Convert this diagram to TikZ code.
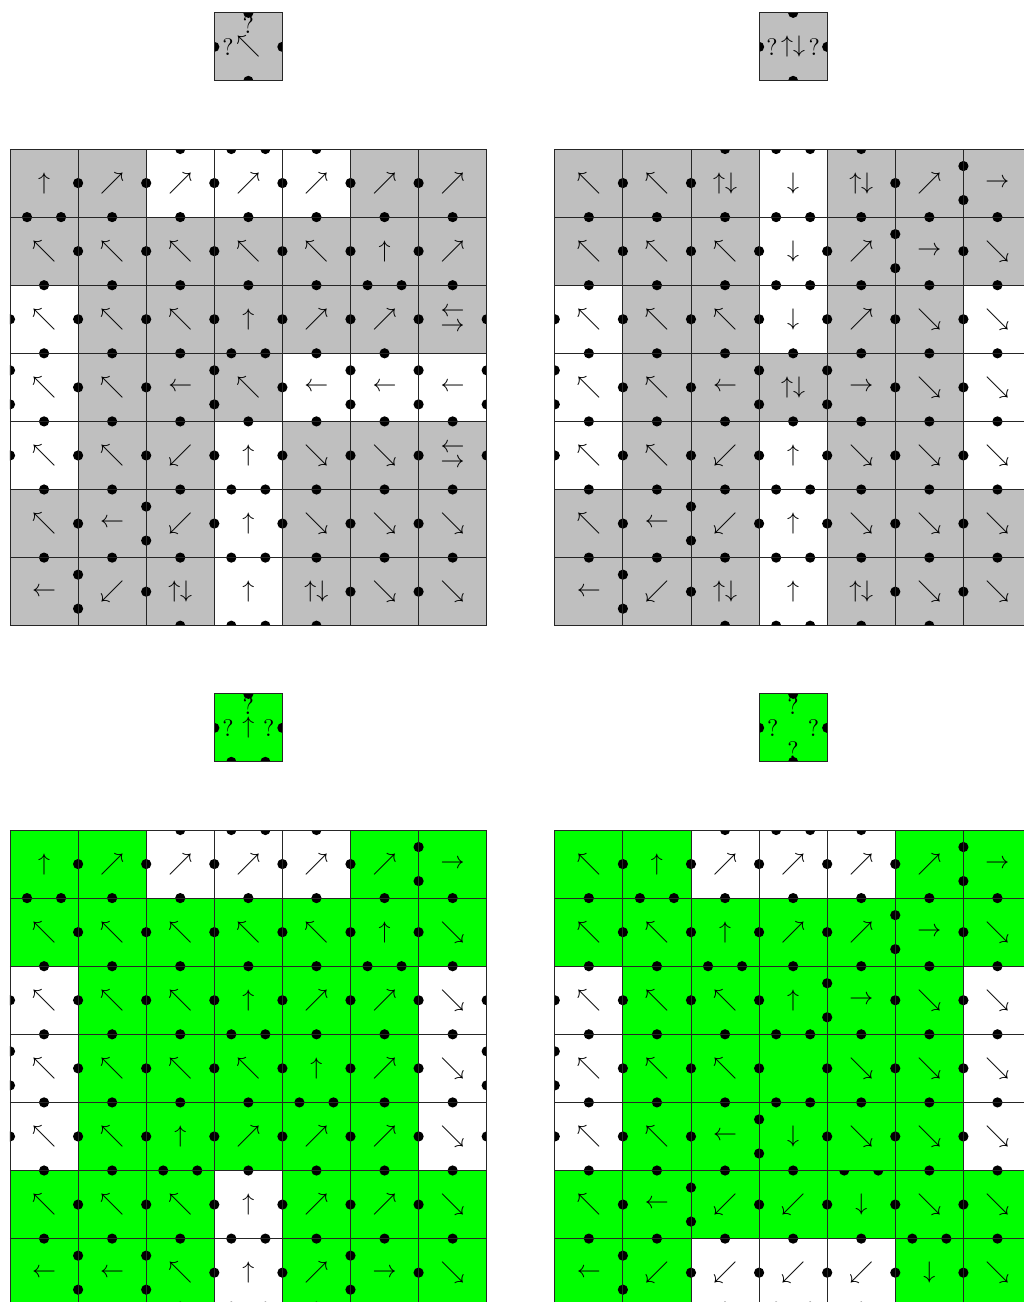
\documentclass[tikz,border=0pt]{standalone}
\usepackage{amsmath,amssymb}
\usepackage{tikz}

\colorlet{gry}{black!25}
\definecolor{grn}{RGB}{0,255,0}

% arrow symbols
\newcommand{\aU}{$\uparrow$}
\newcommand{\aD}{$\downarrow$}
\newcommand{\aL}{$\leftarrow$}
\newcommand{\aR}{$\rightarrow$}
\newcommand{\aNE}{$\nearrow$}
\newcommand{\aNW}{$\nwarrow$}
\newcommand{\aSE}{$\searrow$}
\newcommand{\aSW}{$\swarrow$}
\newcommand{\aUD}{$\uparrow\downarrow$}
\newcommand{\aLR}{$\vcenter{\offinterlineskip\hbox{$\leftarrow$}\kern2.6pt\hbox{$\rightarrow$}}$}

\newcommand{\dotr}{0.075}
% code 0 = no dot, 1 = one dot in the middle, 2 = two dots
\newcommand{\edgedots}[5]{%
  \ifcase#1\relax
  \or \fill ({#2+.5*(#4)},{#3+.5*(#5)}) circle[radius=\dotr];
  \or \fill ({#2+.25*(#4)},{#3+.25*(#5)}) circle[radius=\dotr]
            ({#2+.75*(#4)},{#3+.75*(#5)}) circle[radius=\dotr];
  \fi}
\newcommand{\tileedges}[6]{%
  \edgedots{#3}{#1}{-#2}{1}{0}%
  \edgedots{#4}{#1+1}{-#2}{0}{-1}%
  \edgedots{#5}{#1}{-#2-1}{1}{0}%
  \edgedots{#6}{#1}{-#2}{0}{-1}}
% \tile{col}{row}{fill}{symbol}{NESW}
\newcommand{\tile}[5]{%
  \begin{scope}
    \clip (#1,-#2) rectangle ++(1,-1);
    \fill[#3] (#1,-#2) rectangle ++(1,-1);
    \tileedges{#1}{#2}#5
  \end{scope}
  \node[sym] (t#1#2) at (#1+.5,-#2-.5) {#4};}

\begin{document}
\begin{tikzpicture}[
    sym/.style={inner sep=0pt},
    qm/.style={inner sep=0pt},
    gridline/.style={draw=black!85, line width=0.4pt}
  ]
  \useasboundingbox (-0.1468,-16.931) rectangle (14.890,2.188);

  % small tiles
  \begin{scope}[shift={(3,2)}, name prefix=a-]
    \tile{0}{0}{gry}{\aNW}{1111}
    \node[qm] (qn) at (.5,-.18) {?};
    \node[qm] (qw) at (.2,-.5) {?};
    \draw[gridline] (0,0) rectangle (1,-1);
  \end{scope}
  \begin{scope}[shift={(11,2)}, name prefix=b-]
    \tile{0}{0}{gry}{\aUD}{1111}
    \node[qm] (qw) at (.19,-.5) {?};
    \node[qm] (qe) at (.81,-.5) {?};
    \draw[gridline] (0,0) rectangle (1,-1);
  \end{scope}
  \begin{scope}[shift={(3,-8)}, name prefix=c-]
    \tile{0}{0}{grn}{\aU}{1121}
    \node[qm] (qn) at (.5,-.18) {?};
    \node[qm] (qw) at (.2,-.5) {?};
    \node[qm] (qe) at (.8,-.5) {?};
    \draw[gridline] (0,0) rectangle (1,-1);
  \end{scope}
  \begin{scope}[shift={(11,-8)}, name prefix=d-]
    \tile{0}{0}{grn}{}{1111}
    \node[qm] (qn) at (.5,-.18) {?};
    \node[qm] (qw) at (.2,-.5) {?};
    \node[qm] (qe) at (.8,-.5) {?};
    \node[qm] (qs) at (.5,-.82) {?};
    \draw[gridline] (0,0) rectangle (1,-1);
  \end{scope}

  % grid A (top left)
  \begin{scope}[name prefix=A-]
    \tile{0}{0}{gry}{\aU}{0120}\tile{1}{0}{gry}{\aNE}{0111}\tile{2}{0}{white}{\aNE}{1111}\tile{3}{0}{white}{\aNE}{2111}\tile{4}{0}{white}{\aNE}{1111}\tile{5}{0}{gry}{\aNE}{0111}\tile{6}{0}{gry}{\aNE}{0011}
    \tile{0}{1}{gry}{\aNW}{2110}\tile{1}{1}{gry}{\aNW}{1111}\tile{2}{1}{gry}{\aNW}{1111}\tile{3}{1}{gry}{\aNW}{1111}\tile{4}{1}{gry}{\aNW}{1111}\tile{5}{1}{gry}{\aU}{1121}\tile{6}{1}{gry}{\aNE}{1011}
    \tile{0}{2}{white}{\aNW}{1111}\tile{1}{2}{gry}{\aNW}{1111}\tile{2}{2}{gry}{\aNW}{1111}\tile{3}{2}{gry}{\aU}{1121}\tile{4}{2}{gry}{\aNE}{1111}\tile{5}{2}{gry}{\aNE}{2111}\tile{6}{2}{gry}{\aLR}{1101}
    \tile{0}{3}{white}{\aNW}{1112}\tile{1}{3}{gry}{\aNW}{1111}\tile{2}{3}{gry}{\aL}{1211}\tile{3}{3}{gry}{\aNW}{2112}\tile{4}{3}{white}{\aL}{1211}\tile{5}{3}{white}{\aL}{1212}\tile{6}{3}{white}{\aL}{0212}
    \tile{0}{4}{white}{\aNW}{1111}\tile{1}{4}{gry}{\aNW}{1111}\tile{2}{4}{gry}{\aSW}{1111}\tile{3}{4}{white}{\aU}{1121}\tile{4}{4}{gry}{\aSE}{1111}\tile{5}{4}{gry}{\aSE}{1111}\tile{6}{4}{gry}{\aLR}{1111}
    \tile{0}{5}{gry}{\aNW}{1110}\tile{1}{5}{gry}{\aL}{1211}\tile{2}{5}{gry}{\aSW}{1112}\tile{3}{5}{white}{\aU}{2121}\tile{4}{5}{gry}{\aSE}{1111}\tile{5}{5}{gry}{\aSE}{1111}\tile{6}{5}{gry}{\aSE}{1011}
    \tile{0}{6}{gry}{\aL}{1200}\tile{1}{6}{gry}{\aSW}{1102}\tile{2}{6}{gry}{\aUD}{1011}\tile{3}{6}{white}{\aU}{2020}\tile{4}{6}{gry}{\aUD}{1110}\tile{5}{6}{gry}{\aSE}{1101}\tile{6}{6}{gry}{\aSE}{1001}
    \draw[gridline] (0,-7) grid (7,0);
  \end{scope}

  % grid B (top right)
  \begin{scope}[shift={(8,0)}, name prefix=B-]
    \tile{0}{0}{gry}{\aNW}{0110}\tile{1}{0}{gry}{\aNW}{0111}\tile{2}{0}{gry}{\aUD}{1011}\tile{3}{0}{white}{\aD}{2020}\tile{4}{0}{gry}{\aUD}{1110}\tile{5}{0}{gry}{\aNE}{0211}\tile{6}{0}{gry}{\aR}{0012}
    \tile{0}{1}{gry}{\aNW}{1110}\tile{1}{1}{gry}{\aNW}{1111}\tile{2}{1}{gry}{\aNW}{1111}\tile{3}{1}{white}{\aD}{2121}\tile{4}{1}{gry}{\aNE}{1211}\tile{5}{1}{gry}{\aR}{1112}\tile{6}{1}{gry}{\aSE}{1011}
    \tile{0}{2}{white}{\aNW}{1111}\tile{1}{2}{gry}{\aNW}{1111}\tile{2}{2}{gry}{\aNW}{1111}\tile{3}{2}{white}{\aD}{2111}\tile{4}{2}{gry}{\aNE}{1111}\tile{5}{2}{gry}{\aSE}{1111}\tile{6}{2}{white}{\aSE}{1111}
    \tile{0}{3}{white}{\aNW}{1112}\tile{1}{3}{gry}{\aNW}{1111}\tile{2}{3}{gry}{\aL}{1211}\tile{3}{3}{gry}{\aUD}{1212}\tile{4}{3}{gry}{\aR}{1112}\tile{5}{3}{gry}{\aSE}{1111}\tile{6}{3}{white}{\aSE}{1211}
    \tile{0}{4}{white}{\aNW}{1111}\tile{1}{4}{gry}{\aNW}{1111}\tile{2}{4}{gry}{\aSW}{1111}\tile{3}{4}{white}{\aU}{1121}\tile{4}{4}{gry}{\aSE}{1111}\tile{5}{4}{gry}{\aSE}{1111}\tile{6}{4}{white}{\aSE}{1111}
    \tile{0}{5}{gry}{\aNW}{1110}\tile{1}{5}{gry}{\aL}{1211}\tile{2}{5}{gry}{\aSW}{1112}\tile{3}{5}{white}{\aU}{2121}\tile{4}{5}{gry}{\aSE}{1111}\tile{5}{5}{gry}{\aSE}{1111}\tile{6}{5}{gry}{\aSE}{1011}
    \tile{0}{6}{gry}{\aL}{1200}\tile{1}{6}{gry}{\aSW}{1102}\tile{2}{6}{gry}{\aUD}{1011}\tile{3}{6}{white}{\aU}{2020}\tile{4}{6}{gry}{\aUD}{1110}\tile{5}{6}{gry}{\aSE}{1111}\tile{6}{6}{gry}{\aSE}{1001}
    \draw[gridline] (0,-7) grid (7,0);
  \end{scope}

  % grid C (bottom left)
  \begin{scope}[shift={(0,-10)}, name prefix=C-]
    \tile{0}{0}{grn}{\aU}{0120}\tile{1}{0}{grn}{\aNE}{0111}\tile{2}{0}{white}{\aNE}{1111}\tile{3}{0}{white}{\aNE}{2111}\tile{4}{0}{white}{\aNE}{1111}\tile{5}{0}{grn}{\aNE}{0211}\tile{6}{0}{grn}{\aR}{0012}
    \tile{0}{1}{grn}{\aNW}{2110}\tile{1}{1}{grn}{\aNW}{1111}\tile{2}{1}{grn}{\aNW}{1111}\tile{3}{1}{grn}{\aNW}{1111}\tile{4}{1}{grn}{\aNW}{1111}\tile{5}{1}{grn}{\aU}{1121}\tile{6}{1}{grn}{\aSE}{1011}
    \tile{0}{2}{white}{\aNW}{1111}\tile{1}{2}{grn}{\aNW}{1111}\tile{2}{2}{grn}{\aNW}{1111}\tile{3}{2}{grn}{\aU}{1121}\tile{4}{2}{grn}{\aNE}{1111}\tile{5}{2}{grn}{\aNE}{2111}\tile{6}{2}{white}{\aSE}{1111}
    \tile{0}{3}{white}{\aNW}{1112}\tile{1}{3}{grn}{\aNW}{1111}\tile{2}{3}{grn}{\aNW}{1111}\tile{3}{3}{grn}{\aNW}{2111}\tile{4}{3}{grn}{\aU}{1121}\tile{5}{3}{grn}{\aNE}{1111}\tile{6}{3}{white}{\aSE}{1211}
    \tile{0}{4}{white}{\aNW}{1111}\tile{1}{4}{grn}{\aNW}{1111}\tile{2}{4}{grn}{\aU}{1121}\tile{3}{4}{grn}{\aNE}{1111}\tile{4}{4}{grn}{\aNE}{2111}\tile{5}{4}{grn}{\aNE}{1111}\tile{6}{4}{white}{\aSE}{1111}
    \tile{0}{5}{grn}{\aNW}{1110}\tile{1}{5}{grn}{\aNW}{1111}\tile{2}{5}{grn}{\aNW}{2111}\tile{3}{5}{white}{\aU}{1121}\tile{4}{5}{grn}{\aNE}{1111}\tile{5}{5}{grn}{\aNE}{1111}\tile{6}{5}{grn}{\aSE}{1011}
    \tile{0}{6}{grn}{\aL}{1200}\tile{1}{6}{grn}{\aL}{1202}\tile{2}{6}{grn}{\aNW}{1112}\tile{3}{6}{white}{\aU}{2121}\tile{4}{6}{grn}{\aNE}{1211}\tile{5}{6}{grn}{\aR}{1102}\tile{6}{6}{grn}{\aSE}{1001}
    \draw[gridline] (0,-7) grid (7,0);
  \end{scope}

  % grid D (bottom right)
  \begin{scope}[shift={(8,-10)}, name prefix=D-]
    \tile{0}{0}{grn}{\aNW}{0110}\tile{1}{0}{grn}{\aU}{0121}\tile{2}{0}{white}{\aNE}{1111}\tile{3}{0}{white}{\aNE}{2111}\tile{4}{0}{white}{\aNE}{1111}\tile{5}{0}{grn}{\aNE}{0211}\tile{6}{0}{grn}{\aR}{0012}
    \tile{0}{1}{grn}{\aNW}{1110}\tile{1}{1}{grn}{\aNW}{2111}\tile{2}{1}{grn}{\aU}{1121}\tile{3}{1}{grn}{\aNE}{1111}\tile{4}{1}{grn}{\aNE}{1211}\tile{5}{1}{grn}{\aR}{1112}\tile{6}{1}{grn}{\aSE}{1011}
    \tile{0}{2}{white}{\aNW}{1111}\tile{1}{2}{grn}{\aNW}{1111}\tile{2}{2}{grn}{\aNW}{2111}\tile{3}{2}{grn}{\aU}{1221}\tile{4}{2}{grn}{\aR}{1112}\tile{5}{2}{grn}{\aSE}{1111}\tile{6}{2}{white}{\aSE}{1111}
    \tile{0}{3}{white}{\aNW}{1112}\tile{1}{3}{grn}{\aNW}{1111}\tile{2}{3}{grn}{\aNW}{1111}\tile{3}{3}{grn}{}{2121}\tile{4}{3}{grn}{\aSE}{1111}\tile{5}{3}{grn}{\aSE}{1111}\tile{6}{3}{white}{\aSE}{1211}
    \tile{0}{4}{white}{\aNW}{1111}\tile{1}{4}{grn}{\aNW}{1111}\tile{2}{4}{grn}{\aL}{1211}\tile{3}{4}{grn}{\aD}{2112}\tile{4}{4}{grn}{\aSE}{1101}\tile{5}{4}{grn}{\aSE}{1111}\tile{6}{4}{white}{\aSE}{1111}
    \tile{0}{5}{grn}{\aNW}{1110}\tile{1}{5}{grn}{\aL}{1211}\tile{2}{5}{grn}{\aSW}{1112}\tile{3}{5}{grn}{\aSW}{1111}\tile{4}{5}{grn}{\aD}{2111}\tile{5}{5}{grn}{\aSE}{1121}\tile{6}{5}{grn}{\aSE}{1011}
    \tile{0}{6}{grn}{\aL}{1200}\tile{1}{6}{grn}{\aSW}{1102}\tile{2}{6}{white}{\aSW}{1111}\tile{3}{6}{white}{\aSW}{1121}\tile{4}{6}{white}{\aSW}{1111}\tile{5}{6}{grn}{\aD}{2101}\tile{6}{6}{grn}{\aSE}{1001}
    \draw[gridline] (0,-7) grid (7,0);
  \end{scope}
\end{tikzpicture}
\end{document}
